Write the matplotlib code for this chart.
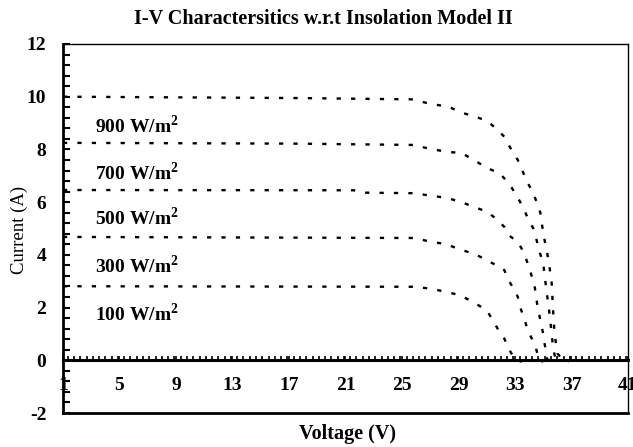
import numpy as np
import matplotlib.pyplot as plt
from matplotlib.ticker import MultipleLocator

# SERIF FONTS (TIMES-LIKE)
plt.rcParams["font.family"] = "Liberation Serif"
plt.rcParams["mathtext.fontset"] = "custom"
plt.rcParams["mathtext.rm"] = "Liberation Serif"
plt.rcParams["mathtext.bf"] = "Liberation Serif:bold"
plt.rcParams["axes.unicode_minus"] = False

# DATA (voltage V, current A) per insolation level
v_900 = [1, 17.3, 25.7, 27.0, 28.3, 29.2, 30.2, 31.0, 31.7, 32.25, 32.55, 33.2,
         33.6, 33.9, 34.3, 34.8, 35.0, 35.4, 35.6, 35.7, 35.8, 36.0, 36.4, 36.8]
i_900 = [10.0, 9.95, 9.9, 9.73, 9.62, 9.4, 9.24, 9.09, 8.78, 8.48, 8.17, 7.6,
         7.1, 6.73, 6.35, 5.6, 4.83, 3.73, 2.93, 1.9, 1.03, 0.27, 0.0, -0.05]

v_700 = [1, 17.3, 25.8, 27.0, 28.3, 29.2, 30.1, 31.0, 31.9, 32.55, 33.1, 33.6,
         33.9, 34.3, 34.5, 34.7, 35.0, 35.2, 35.4, 35.6, 35.7, 35.9, 36.2]
i_700 = [8.25, 8.22, 8.17, 8.02, 7.9, 7.87, 7.6, 7.3, 7.1, 6.73, 6.27, 5.78,
         5.4, 5.0, 4.64, 4.18, 3.69, 2.78, 1.98, 1.03, 0.45, 0.0, -0.05]

v_500 = [1, 21.6, 22.2, 25.8, 27.0, 28.2, 29.2, 30.2, 31.0, 31.6, 32.25, 32.55,
         33.2, 33.6, 33.9, 34.2, 34.4, 34.6, 34.8, 35.0, 35.1, 35.3, 35.6]
i_500 = [6.46, 6.45, 6.36, 6.34, 6.25, 6.16, 6.0, 5.8, 5.64, 5.4, 5.06, 4.75,
         4.49, 4.12, 3.68, 3.17, 2.79, 2.03, 1.52, 1.01, 0.63, 0.0, -0.05]

v_300 = [1, 25.9, 27.0, 28.1, 29.1, 30.2, 31.0, 31.8, 32.25, 32.55, 32.9, 33.2,
         33.4, 33.7, 33.9, 34.2, 34.5, 34.7, 35.0]
i_300 = [4.68, 4.64, 4.5, 4.41, 4.21, 4.02, 3.8, 3.57, 3.42, 3.04, 2.72, 2.41,
         1.97, 1.52, 1.14, 0.82, 0.44, 0.0, -0.05]

v_100 = [1, 25.9, 27.0, 28.1, 29.1, 30.0, 31.0, 31.5, 31.9, 32.25, 32.55, 32.9,
         33.1, 33.5]
i_100 = [2.81, 2.79, 2.72, 2.6, 2.47, 2.22, 1.9, 1.46, 1.08, 0.82, 0.44, 0.13,
         0.0, -0.05]

series = [(v_900, i_900), (v_700, i_700), (v_500, i_500),
          (v_300, i_300), (v_100, i_100)]

labels = ["900", "700", "500", "300", "100"]
label_y = [8.9, 7.12, 5.42, 3.6, 1.78]
label_x = 3.25

x_ticks = [1, 5, 9, 13, 17, 21, 25, 29, 33, 37, 41]
y_ticks = [-2, 0, 2, 4, 6, 8, 10, 12]

# FIGURE
fig = plt.figure(figsize=(6.33, 4.47), dpi=100)
ax = fig.add_axes([0.0995, 0.076, 0.8925, 0.8256])

# CURVES
for v, i in series:
    ax.plot(
        v, i,
        color="black",
        linewidth=1.7,
        linestyle=(0, (1.8, 4.3)),
        dash_capstyle="butt"
    )

# LABELS
for lab, y in zip(labels, label_y):
    ax.text(
        label_x, y,
        lab + r" W/m$^{\mathbf{2}}$",
        fontsize=14,
        fontweight="bold",
        ha="left",
        va="center"
    )

# AXES LIMITS
ax.set_xlim(1, 41)
ax.set_ylim(-2, 12)

# SPINES
ax.spines["bottom"].set_position(("data", 0))
ax.spines["bottom"].set_linewidth(2.2)
ax.spines["left"].set_linewidth(2)
ax.spines["top"].set_linewidth(1)
ax.spines["right"].set_linewidth(1)

# BOTTOM FRAME LINE
ax.plot([0, 1], [0, 0], transform=ax.transAxes, color="black",
        linewidth=2, clip_on=False)

# TICKS
ax.set_xticks(x_ticks)
ax.set_yticks(y_ticks)
ax.xaxis.set_minor_locator(MultipleLocator(4 / 9))
ax.yaxis.set_minor_locator(MultipleLocator(0.4))

ax.tick_params(axis="x", which="both", direction="in", length=3,
               width=1.2, pad=12, labelsize=14)
ax.tick_params(axis="y", which="both", direction="in", length=5,
               width=1.5, pad=12, labelsize=14)
for lab in ax.get_xticklabels() + ax.get_yticklabels():
    lab.set_fontweight("bold")

# TITLE AND AXIS LABELS
fig.text(0.511, 0.958, "I-V Charactersitics w.r.t Insolation Model II",
         fontsize=14.5, fontweight="bold", ha="center", va="center")
fig.text(0.549, 0.03, "Voltage (V)", fontsize=14.5, fontweight="bold",
         ha="center", va="center")
fig.text(0.03, 0.485, "Current (A)", fontsize=13.5, rotation=90,
         ha="center", va="center")

plt.savefig("out.png", dpi=100)
plt.close()
